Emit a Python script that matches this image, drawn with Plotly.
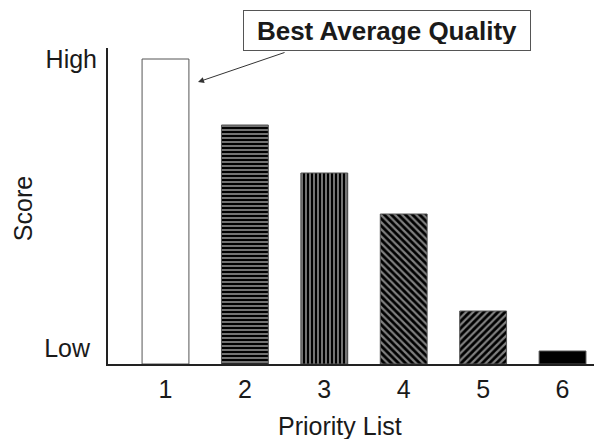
import plotly.graph_objects as go

categories = [1, 2, 3, 4, 5, 6]
tick_labels = ["1", "2", "3", "4", "5", "6"]
scores = [305, 239, 191, 150, 53, 13]
bar_colors = ["white", "black", "black", "black", "black", "black"]
bar_patterns = ["", "-", "|", "\\", "/", ""]
pattern_sizes = [4, 4, 4, 5, 5, 4]
y_tick_vals = [16, 305]
y_tick_text = ["Low\u00a0", "High"]

FONT = "Liberation Sans, Arial, sans-serif"
TXT = "#1a1a1a"

fig = go.Figure()
fig.add_trace(go.Bar(
    x=categories, y=scores, width=0.59,
    marker=dict(
        color=bar_colors,
        line=dict(color="#555555", width=1),
        pattern=dict(shape=bar_patterns, bgcolor="white", size=pattern_sizes, solidity=0.45),
    ),
    showlegend=False,
))

# the page adds an 8px body margin, so the figure is 8px smaller than the window
fig.update_layout(
    width=594, height=431,
    margin=dict(l=100, r=0, t=40, b=75, autoexpand=False),
    paper_bgcolor="white", plot_bgcolor="white",
    font=dict(family=FONT, size=25, color=TXT),
    xaxis=dict(
        range=[0.276, 6.497], tickmode="array", tickvals=categories, ticktext=tick_labels,
        showline=True, linecolor="#222222", linewidth=2, showgrid=False, zeroline=False,
        ticks="", ticklabelstandoff=2, automargin=False,
    ),
    yaxis=dict(
        range=[0, 316], tickmode="array", tickvals=y_tick_vals, ticktext=y_tick_text,
        showline=True, linecolor="#222222", linewidth=2, showgrid=False, zeroline=False,
        ticks="", ticklabelstandoff=4, automargin=False,
    ),
    annotations=[
        dict(
            x=0.5648, y=1.0554, xref="paper", yref="paper",
            xanchor="center", yanchor="middle",
            text="<b>Best Average Quality</b>", showarrow=False,
            font=dict(size=26, color=TXT),
            width=274, height=27,
            bordercolor="#555555", borderwidth=1, borderpad=6, bgcolor="white",
        ),
        dict(
            x=1.4095, y=282, xref="x", yref="y",
            ax=2.518, ay=312, axref="x", ayref="y",
            text="", showarrow=True,
            arrowhead=2, arrowsize=1.2, arrowwidth=1, arrowcolor="#333333",
        ),
        dict(
            x=0.4706, y=-0.197, xref="paper", yref="paper",
            xanchor="center", yanchor="middle",
            text="Priority List", showarrow=False, font=dict(size=25, color=TXT),
        ),
        dict(
            x=-0.172, y=0.49, xref="paper", yref="paper",
            xanchor="center", yanchor="middle", textangle=-90,
            text="Score", showarrow=False, font=dict(size=25, color=TXT),
        ),
    ],
)

fig.write_html("out.html")
